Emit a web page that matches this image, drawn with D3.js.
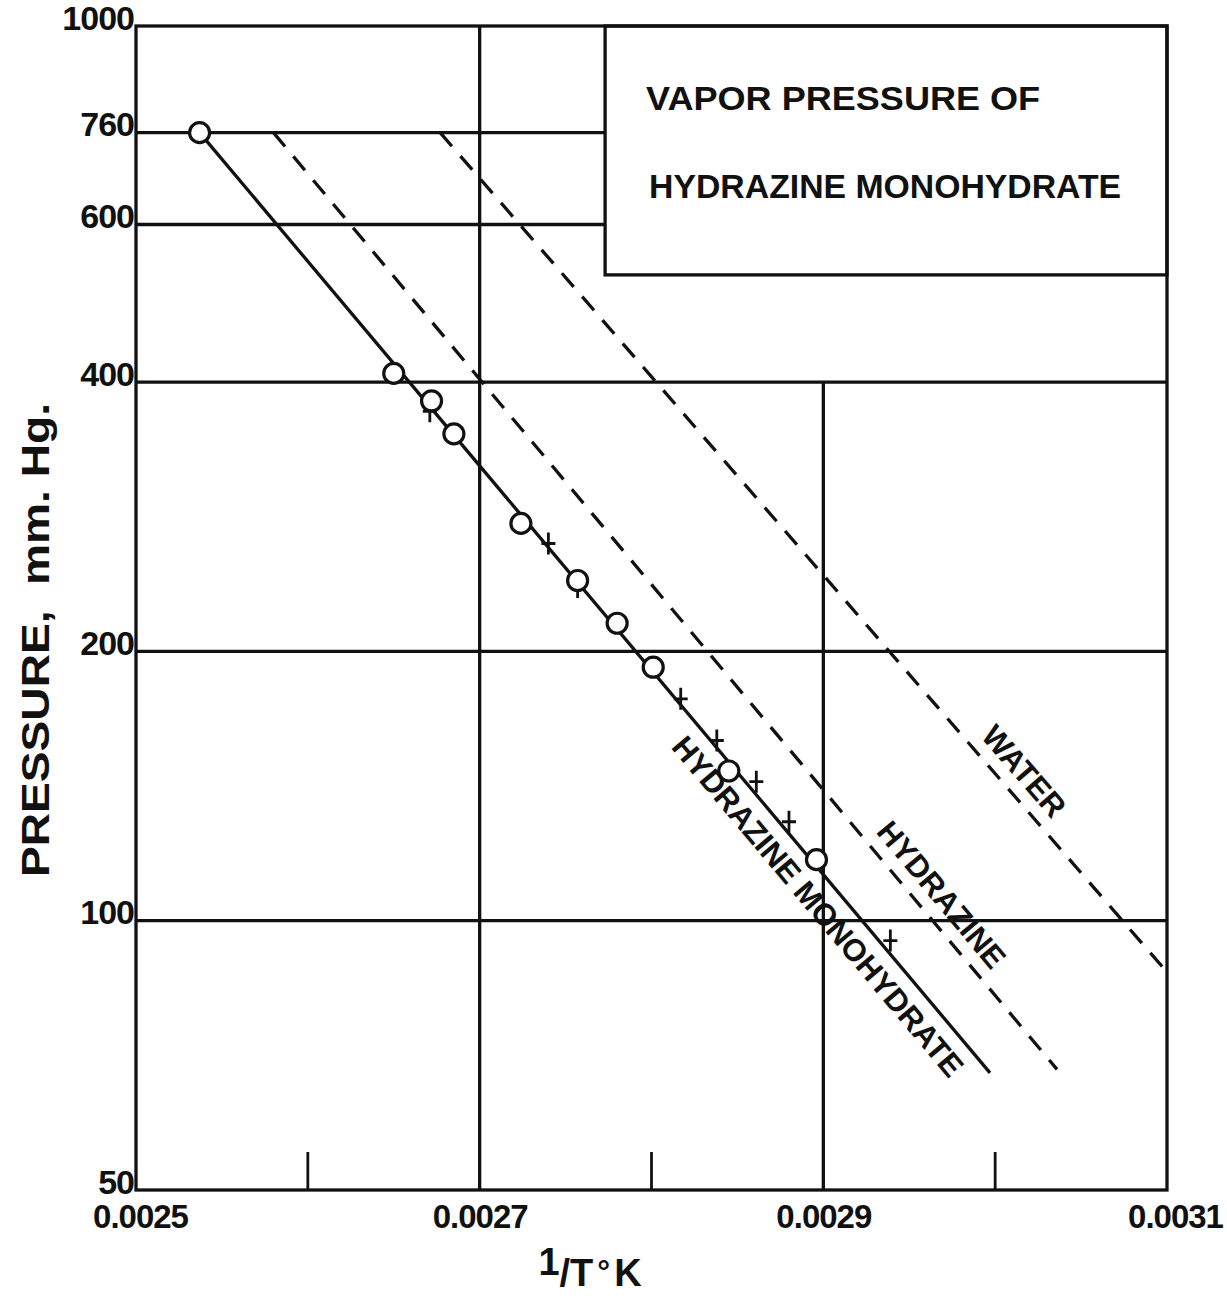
<!DOCTYPE html>
<html>
<head>
<meta charset="utf-8">
<script src="https://cdn.jsdelivr.net/npm/d3@7"></script>
<style>
  html, body { margin: 0; padding: 0; background: #fff; }
  svg { display: block; }
  text { font-family: "Liberation Sans", Arial, sans-serif; font-weight: bold; fill: #111; }
</style>
</head>
<body>
<svg id="chart" width="1227" height="1303"></svg>
<script>
// ---------- data ----------
const xTickValues = [0.0025, 0.0027, 0.0029, 0.0031];
const xTickLabels = ["0.0025", "0.0027", "0.0029", "0.0031"];
const xMinorTicks = [0.0026, 0.0028, 0.0030];
const yTickValues = [50, 100, 200, 400, 600, 760, 1000];
const yTickLabels = ["50", "100", "200", "400", "600", "760", "1000"];

// measured points, hydrazine monohydrate (1/T, mm Hg)
const monoCircles = [
  [0.002537, 760], [0.002650, 409], [0.002672, 381], [0.002685, 350],
  [0.002724, 278], [0.002757, 240], [0.002780, 215], [0.002801, 192],
  [0.002845, 147], [0.002896, 117]
];
const monoCrosses = [
  [0.002671, 371], [0.002740, 264], [0.002757, 236], [0.002817, 177],
  [0.002838, 159], [0.002861, 143], [0.002880, 129], [0.002939, 95]
];
// curves (end points of straight log-lines)
const monoLine = [[0.002537, 760], [0.002997, 67.6]];
const hydrazineLine = [[0.002580, 760], [0.003036, 68.2]];
const waterLine = [[0.002677, 760], [0.003100, 87.6]];

const titleLines = ["VAPOR PRESSURE OF", "HYDRAZINE MONOHYDRATE"];
const curveLabels = [
  { text: "HYDRAZINE MONOHYDRATE", at: [0.002897, 103.8], line: monoLine },
  { text: "HYDRAZINE", at: [0.002969, 107], line: hydrazineLine },
  { text: "WATER", at: [0.003017, 147], line: waterLine }
];

// ---------- layout ----------
const L = 136, R = 1167, T = 26, B = 1190;
const boxX = 0.002773, boxP = 527;   // title box corner (data space)

const svg = d3.select("#chart");
const x = d3.scaleLinear().domain([0.0025, 0.0031]).range([L, R]);
const y = d3.scaleLog().domain([50, 1000]).range([B, T]);

const SW = 3.3;
const g = svg.append("g");

// horizontal grid lines
g.selectAll("line.hgrid")
  .data(yTickValues.filter(v => v > 50 && v < 1000))
  .join("line")
  .attr("x1", x(0.0025))
  .attr("x2", d => d > boxP ? x(boxX) : x(0.0031))
  .attr("y1", d => y(d)).attr("y2", d => y(d))
  .attr("stroke", "#111").attr("stroke-width", SW);

// vertical grid lines
const vGrid = [[0.0027, 1000], [0.0029, 400]];
g.selectAll("line.vgrid")
  .data(vGrid)
  .join("line")
  .attr("x1", d => x(d[0])).attr("x2", d => x(d[0]))
  .attr("y1", y(50)).attr("y2", d => y(d[1]))
  .attr("stroke", "#111").attr("stroke-width", SW);

// minor ticks at bottom
g.selectAll("line.minor")
  .data(xMinorTicks)
  .join("line")
  .attr("x1", d => x(d)).attr("x2", d => x(d))
  .attr("y1", y(50)).attr("y2", y(50) - 38)
  .attr("stroke", "#111").attr("stroke-width", 2.8);

// title box
g.append("rect")
  .attr("x", x(boxX)).attr("y", y(1000))
  .attr("width", x(0.0031) - x(boxX)).attr("height", y(boxP) - y(1000))
  .attr("fill", "#fff").attr("stroke", "#111").attr("stroke-width", SW);

const bx = x(boxX);
g.append("text").attr("x", bx + 41).attr("y", 110)
  .attr("font-size", 34).attr("textLength", 394).attr("lengthAdjust", "spacingAndGlyphs")
  .text(titleLines[0]);
g.append("text").attr("x", bx + 44).attr("y", 198)
  .attr("font-size", 34).attr("textLength", 472).attr("lengthAdjust", "spacingAndGlyphs")
  .text(titleLines[1]);

// plot frame
g.append("rect")
  .attr("x", L).attr("y", T).attr("width", R - L).attr("height", B - T)
  .attr("fill", "none").attr("stroke", "#111").attr("stroke-width", SW);

// curves
const lineGen = d3.line().x(d => x(d[0])).y(d => y(d[1]));
g.append("path").datum(monoLine).attr("d", lineGen)
  .attr("fill", "none").attr("stroke", "#111").attr("stroke-width", SW);
g.append("path").datum(hydrazineLine).attr("d", lineGen)
  .attr("fill", "none").attr("stroke", "#111").attr("stroke-width", SW)
  .attr("stroke-dasharray", "18,13");
g.append("path").datum(waterLine).attr("d", lineGen)
  .attr("fill", "none").attr("stroke", "#111").attr("stroke-width", SW)
  .attr("stroke-dasharray", "18,13");

// crosses
g.selectAll("path.cross")
  .data(monoCrosses)
  .join("path")
  .attr("d", d => {
    const cx = x(d[0]), cy = y(d[1]);
    return `M${cx},${cy - 11}L${cx},${cy + 11}M${cx - 7},${cy}L${cx + 7},${cy}`;
  })
  .attr("stroke", "#111").attr("stroke-width", 2.8).attr("fill", "none");

// circles
g.selectAll("circle.pt")
  .data(monoCircles)
  .join("circle")
  .attr("cx", d => x(d[0])).attr("cy", d => y(d[1]))
  .attr("r", 10)
  .attr("fill", "#fff").attr("stroke", "#111").attr("stroke-width", 3.2);

// curve labels
curveLabels.forEach(c => {
  const p1 = c.line[0], p2 = c.line[1];
  const ang = Math.atan2(y(p2[1]) - y(p1[1]), x(p2[0]) - x(p1[0])) * 180 / Math.PI;
  g.append("text")
    .attr("transform", `translate(${x(c.at[0])},${y(c.at[1])}) rotate(${ang})`)
    .attr("text-anchor", "middle").attr("dy", "0.36em")
    .attr("font-size", 31)
    .text(c.text);
});

// axes (labels only)
const yAxis = d3.axisLeft(y).tickValues(yTickValues)
  .tickFormat((d, i) => yTickLabels[i]).tickSize(0).tickPadding(2);
const yg = svg.append("g").attr("transform", `translate(${L},0)`).call(yAxis);
yg.select(".domain").remove();
yg.selectAll("text").attr("font-size", 34).attr("dy", "0.09em")
  .style("font-family", "Liberation Sans, Arial, sans-serif").style("font-weight", "bold")
  .attr("fill", "#111").attr("letter-spacing", -1);

const xAxis = d3.axisBottom(x).tickValues(xTickValues)
  .tickFormat((d, i) => xTickLabels[i]).tickSize(0).tickPadding(15);
const xg = svg.append("g").attr("transform", `translate(0,${B})`).call(xAxis);
xg.select(".domain").remove();
xg.selectAll("text").attr("font-size", 33)
  .style("font-family", "Liberation Sans, Arial, sans-serif").style("font-weight", "bold")
  .attr("fill", "#111").attr("letter-spacing", -1)
  .attr("dx", (d, i) => i === xTickValues.length - 1 ? 8 : (i === 0 ? 4 : 0));

// axis titles
svg.append("text")
  .attr("transform", "translate(49,640) rotate(-90)")
  .attr("text-anchor", "middle")
  .attr("font-size", 38)
  .attr("textLength", 474).attr("lengthAdjust", "spacingAndGlyphs")
  .style("white-space", "pre")
  .text("PRESSURE,  mm. Hg.");

const xt = svg.append("text")
  .attr("x", 590).attr("y", 1286)
  .attr("text-anchor", "middle")
  .attr("font-size", 38);
xt.append("tspan").attr("dy", -11).text("1");
xt.append("tspan").attr("dy", 11).text("/T");
xt.append("tspan").attr("font-size", 32).attr("dy", -4).attr("dx", 4).text("°");
xt.append("tspan").attr("dy", 4).attr("dx", 4).text("K");
</script>
</body>
</html>
